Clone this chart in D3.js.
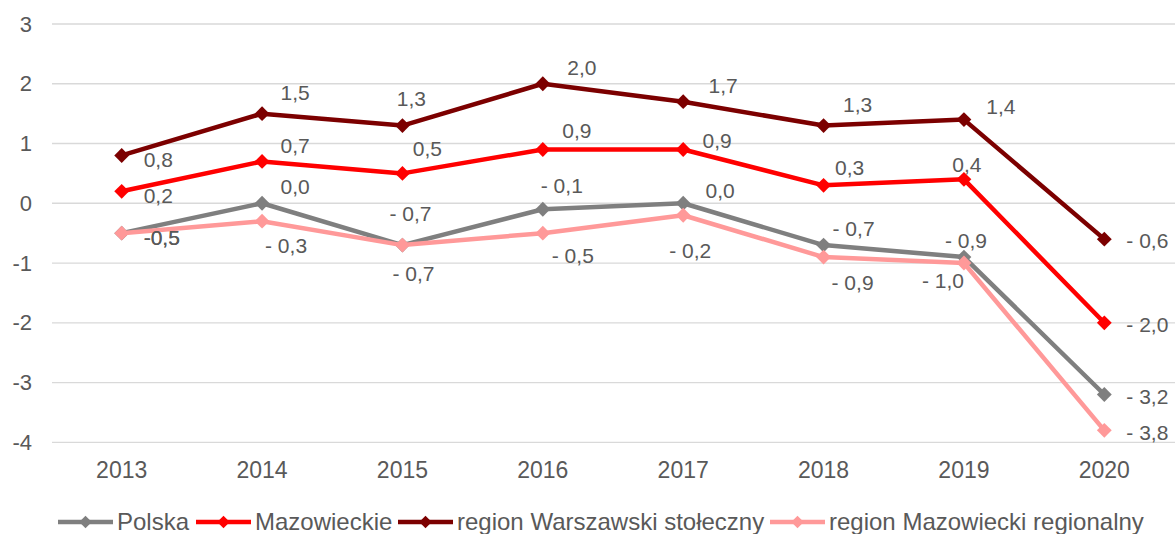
<!DOCTYPE html>
<html lang="en">
<head>
    <meta charset="utf-8">
    <script src="https://d3js.org/d3.v7.min.js"></script>
    <style>
        body { margin: 0; background: #fff; }
        svg text { font-family: "Liberation Sans", Arial, sans-serif; fill: #595959; }
    </style>
</head>
<body>
    <div id="chart"></div>
    <script>
        // data
        var years = ["2013", "2014", "2015", "2016", "2017", "2018", "2019", "2020"];
        var yTicks = [3, 2, 1, 0, -1, -2, -3, -4];
        var seriesNames = ["Polska", "Mazowieckie", "region Warszawski stołeczny", "region Mazowiecki regionalny"];
        var polska = [-0.5, 0.0, -0.7, -0.1, 0.0, -0.7, -0.9, -3.2];
        var mazowieckie = [0.2, 0.7, 0.5, 0.9, 0.9, 0.3, 0.4, -2.0];
        var warszawski = [0.8, 1.5, 1.3, 2.0, 1.7, 1.3, 1.4, -0.6];
        var regionalny = [-0.5, -0.3, -0.7, -0.5, -0.2, -0.9, -1.0, -3.8];

        var colors = ["#7f7f7f", "#ff0000", "#7c0000", "#ff9999"];

        // label nudges (px from the marker) for the middle points, like the hand placed excel labels
        var labelDx = [
            [33, 8, 19, 37, 30, 2],
            [33, 25, 34, 34, 26, 3],
            [33, 9, 39, 40, 34, 37],
            [24, 11, 30, 7, 29, -21]
        ];
        var labelDy = [
            [-17, -31, -24, -13, -16, -16],
            [-16, -25, -19, -9, -18, -15],
            [-21, -27, -16, -16, -21, -13],
            [24, 29, 22, 35, 26, 18]
        ];

        var series = [polska, mazowieckie, warszawski, regionalny].map(function (vals, i) {
            return { name: seriesNames[i], color: colors[i], dx: labelDx[i], dy: labelDy[i], values: vals };
        });

        var width = 1175, height = 534;
        var svg = d3.select("#chart").append("svg")
            .attr("width", width)
            .attr("height", height);

        var x = d3.scalePoint().domain(years).range([51.5, 1174.5]).padding(0.5);
        var y = d3.scaleLinear().domain([-4, 3]).range([442.3, 24]);

        // gridlines
        svg.append("g").selectAll("line").data(yTicks).join("line")
            .attr("x1", 52).attr("x2", 1175)
            .attr("y1", function (d) { return y(d); })
            .attr("y2", function (d) { return y(d); })
            .attr("stroke", "#d9d9d9").attr("stroke-width", 1.3);

        // y tick labels
        svg.append("g").selectAll("text").data(yTicks).join("text")
            .attr("x", 32).attr("y", function (d) { return y(d); })
            .attr("dy", "0.35em")
            .attr("text-anchor", "end")
            .style("font-size", "22px")
            .text(function (d) { return d < 0 ? "-" + Math.abs(d) : d; });

        // x labels
        svg.append("g").selectAll("text").data(years).join("text")
            .attr("x", function (d) { return x(d); }).attr("y", 470)
            .attr("dy", "0.35em")
            .attr("text-anchor", "middle")
            .style("font-size", "23px")
            .text(function (d) { return d; });

        var line = d3.line()
            .x(function (d, i) { return x(years[i]); })
            .y(function (d) { return y(d); });

        var diamond = d3.symbol().type(d3.symbolDiamond2).size(140);

        series.forEach(function (s) {
            var g = svg.append("g");
            g.append("path")
                .attr("d", line(s.values))
                .attr("fill", "none")
                .attr("stroke", s.color)
                .attr("stroke-width", 4.5)
                .attr("stroke-linejoin", "round");
            g.selectAll("path.m").data(s.values).join("path")
                .attr("class", "m")
                .attr("d", diamond)
                .attr("transform", function (d, i) { return "translate(" + x(years[i]) + "," + y(d) + ")"; })
                .attr("fill", s.color);
        });

        function fmt(v) {
            var t = Math.abs(v).toFixed(1).replace(".", ",");
            return v < 0 ? "- " + t : t;
        }

        var last = years.length - 1;

        // data labels
        series.forEach(function (s) {
            svg.append("g").selectAll("text").data(s.values).join("text")
                .attr("x", function (d, i) {
                    var px = x(years[i]);
                    if (i === 0 || i === last) return px + 22;
                    return px + s.dx[i - 1];
                })
                .attr("y", function (d, i) {
                    var py = y(d);
                    if (i === 0) return py + 4;
                    if (i === last) return py + 2;
                    return py + s.dy[i - 1];
                })
                .attr("dy", "0.35em")
                .attr("text-anchor", function (d, i) {
                    return (i === 0 || i === last) ? "start" : "middle";
                })
                .style("font-size", "21px")
                .text(function (d, i) { return i === 0 ? fmt(d).replace("- ", "-") : fmt(d); });
        });

        // legend
        var legendX = [58, 196, 398, 770];
        var legend = svg.append("g").selectAll("g").data(series).join("g")
            .attr("transform", function (d, i) { return "translate(" + legendX[i] + ",522)"; });
        legend.append("line")
            .attr("x1", 0).attr("x2", 55)
            .attr("stroke", function (d) { return d.color; })
            .attr("stroke-width", 4.5);
        legend.append("path")
            .attr("d", d3.symbol().type(d3.symbolDiamond2).size(100))
            .attr("transform", "translate(27.5,0)")
            .attr("fill", function (d) { return d.color; });
        legend.append("text")
            .attr("x", 59).attr("dy", "0.35em")
            .style("font-size", "24px")
            .text(function (d) { return d.name; });
    </script>
</body>
</html>
